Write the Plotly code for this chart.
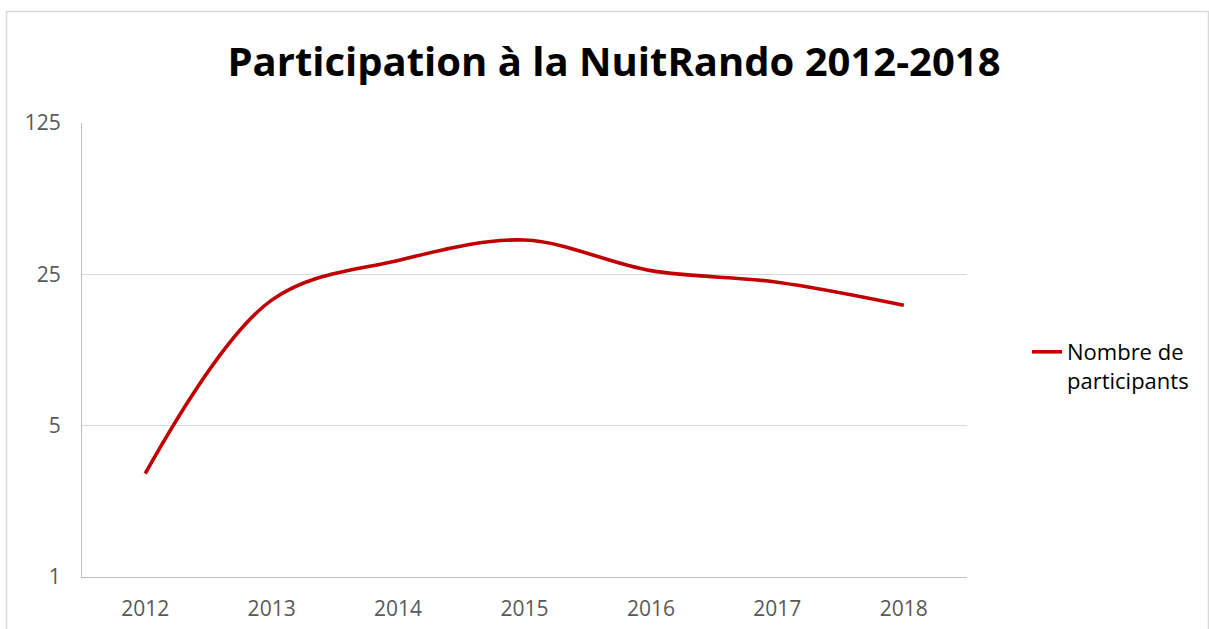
import plotly.graph_objects as go

# Participants per year of the NuitRando night hike
annees = ["2012", "2013", "2014", "2015", "2016", "2017", "2018"]
participants = [3, 19, 29, 36, 26, 23, 18]
graduations = [1, 5, 25, 125]
titre = "Participation à la NuitRando 2012-2018"

W, H = 1209, 629
L, R, T, B = 82, 242, 123, 52
pw, ph = W - L - R, H - T - B

police = "Open Sans"

fig = go.Figure()
fig.add_trace(go.Scatter(
    x=annees,
    y=participants,
    mode="lines",
    name="Nombre de<br>participants",
    line=dict(color="#c00000", width=3.6, shape="spline", smoothing=1.0),
    hoverinfo="x+y",
))


def px_x(v):
    return (v - L) / pw


def px_y(v):
    return (H - B - v) / ph


# outer chart frame
fig.add_shape(type="rect", xref="paper", yref="paper",
              x0=px_x(6.5), x1=px_x(1208.5), y0=px_y(11.5), y1=px_y(660),
              line=dict(color="#d9d9d9", width=1.5), layer="below")

fig.update_layout(
    width=W, height=H,
    autosize=False,
    margin=dict(l=L, r=R, t=T, b=B, autoexpand=False),
    paper_bgcolor="white", plot_bgcolor="white",
    font=dict(family=police, color="#595959", size=20),
    title=dict(text=f"<b>{titre}</b>", x=614 / W, xref="container", xanchor="center",
               y=1 - 62 / H, yref="container", yanchor="middle",
               font=dict(family=police, size=40, color="black"), automargin=False),
    showlegend=True,
    legend=dict(x=px_x(1027), y=px_y(331), xanchor="left", yanchor="top",
                valign="top", font=dict(family=police, size=22, color="black"),
                bgcolor="rgba(0,0,0,0)", itemwidth=30),
    xaxis=dict(
        type="category", showgrid=False, showline=True, linecolor="#bfbfbf",
        linewidth=1, ticks="", ticklabelstandoff=13, range=[-0.5, 6.5],
        tickfont=dict(size=21, color="#595959"), fixedrange=True, automargin=False,
    ),
    yaxis=dict(
        type="log", range=[0, 3 * 0.69897], tickvals=graduations,
        ticktext=[str(v) for v in graduations],
        showgrid=True, gridcolor="#d9d9d9", gridwidth=1,
        showline=True, linecolor="#bfbfbf", linewidth=1, ticks="",
        ticklabelstandoff=16, zeroline=False, automargin=False,
        tickfont=dict(size=21, color="#595959"), fixedrange=True,
    ),
)

fig.write_html("out.html")
